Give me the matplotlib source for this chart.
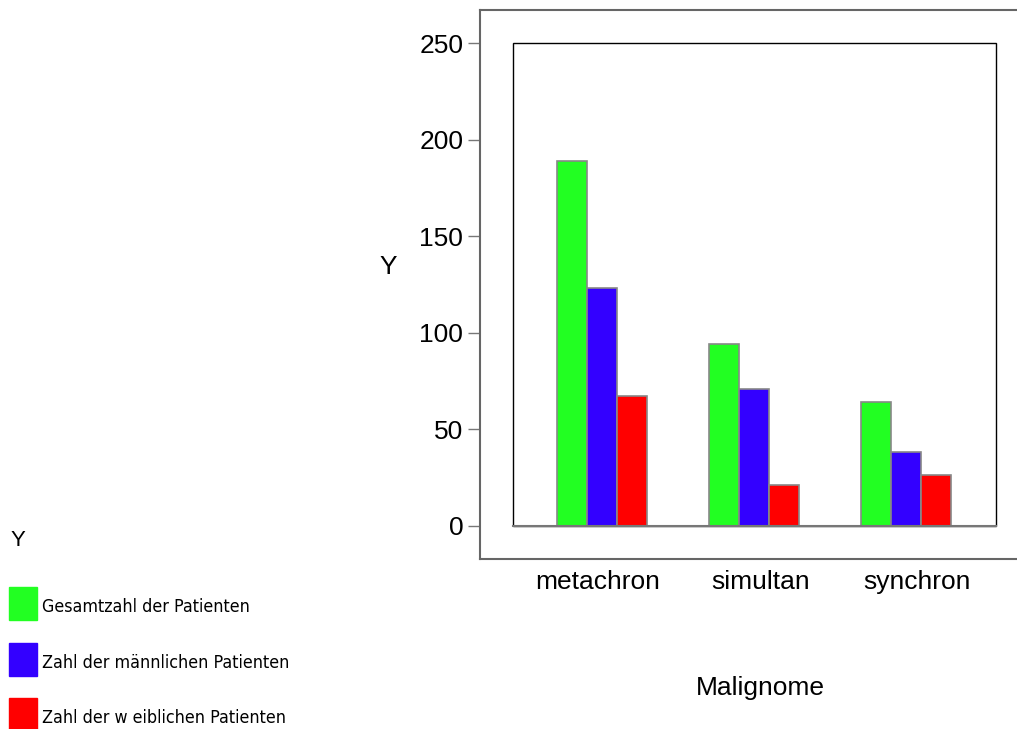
import numpy as np
import matplotlib.pyplot as plt
from matplotlib.patches import Rectangle
from matplotlib import font_manager
from matplotlib.font_manager import FontProperties

categories = ["metachron", "simultan", "synchron"]
series = ["Gesamtzahl der Patienten", "Zahl der männlichen Patienten", "Zahl der w eiblichen Patienten"]
gesamt = [189, 94, 64]
maennlich = [123, 71, 38]
weiblich = [67, 21, 26]
values = [gesamt, maennlich, weiblich]
colors = ["#22ff22", "#3300ff", "#ff0000"]
yticks = [0, 50, 100, 150, 200, 250]

names = {f.name for f in font_manager.fontManager.ttflist}
main_font = "Liberation Sans" if "Liberation Sans" in names else "DejaVu Sans"
plt.rcParams['font.family'] = [main_font, 'DejaVu Sans']

# look for a condensed face for the legend
narrow = None
for f in font_manager.fontManager.ttflist:
    if ("Narrow" in f.name or "Condensed" in f.name or f.stretch == "condensed") and f.weight in (400, "normal", "regular") and f.style == "normal":
        narrow = f.fname
        break
if narrow:
    leg_fp = FontProperties(fname=narrow, size=12.8)
else:
    leg_fp = FontProperties(family=main_font, size=12.9)

W, H = 1017, 729
fig = plt.figure(figsize=(W/100, H/100), dpi=100)
ax = fig.add_axes([480/W, 1-559/H, 1-480/W, (559-10)/H])

x = np.arange(len(categories))
width = 0.197
for i, (vals, c) in enumerate(zip(values, colors)):
    ax.bar(x + (i-1)*width, vals, width, color=c, edgecolor="#888888", linewidth=1.2, zorder=3)

x0, x1 = -0.803, 2.73
ax.set_ylim(-17.3, 267.3)
ax.set_xlim(x0, x1)
ax.add_patch(Rectangle((-0.585, 0), 2.595+0.585, 250, fill=False, edgecolor="black", linewidth=1, zorder=2))
ax.axhline(0, xmin=(-0.585-x0)/(x1-x0), xmax=(2.595-x0)/(x1-x0), color="#777777", lw=1.5, zorder=4)

ax.set_yticks(yticks)
# labels sit a little wider apart than the bar groups
ax.set_xticks(x + np.array([-0.03, 0.04, 0.07]))
ax.set_xticklabels(categories)
ax.tick_params(axis='y', length=9, width=1, color="#777777", labelsize=19, pad=3)
ax.tick_params(axis='x', length=0, labelsize=19, pad=8)
for s in ["left", "bottom", "top"]:
    ax.spines[s].set_color("#666666")
    ax.spines[s].set_linewidth(1.5)
ax.spines["right"].set_visible(False)

fig.text(388/W, 1-267/H, "Y", fontsize=19, ha="center", va="center")
fig.text(760/W, 1-688/H, "Malignome", fontsize=19, ha="center", va="center")

# legend at left
fig.text(11/W, 1-541/H, "Y", fontsize=16, ha="left", va="center")
for i, (name, c) in enumerate(zip(series, colors)):
    top = 587 + i*55.5
    fig.add_artist(Rectangle((9/W, 1-(top+33)/H), 28/W, 33/H, transform=fig.transFigure, color=c))
    fig.text(42/W, 1-(top+20)/H, name, ha="left", va="center", fontproperties=leg_fp)

plt.savefig("out.png", dpi=100)
